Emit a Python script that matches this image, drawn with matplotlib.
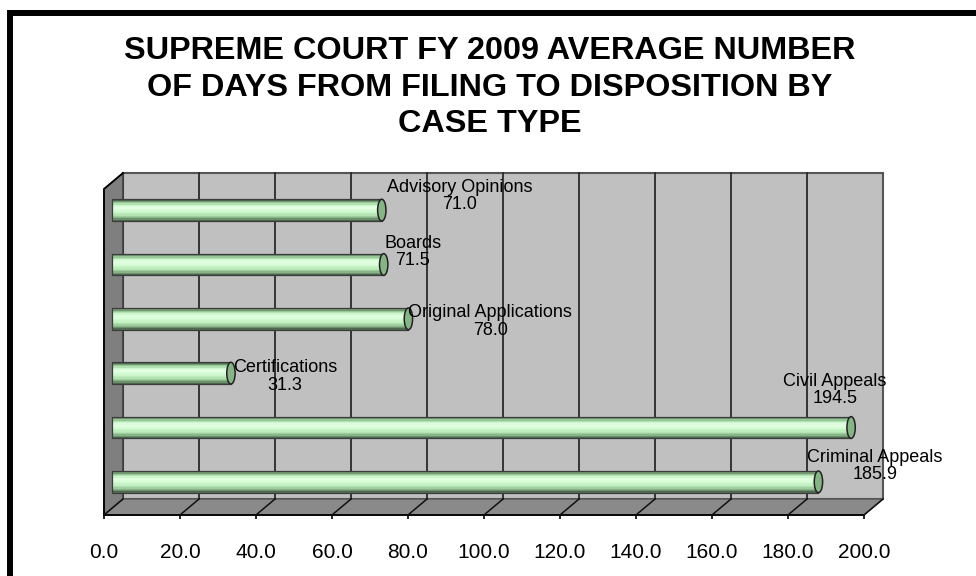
import matplotlib
matplotlib.use('Agg')
import matplotlib.pyplot as plt
import numpy as np
from matplotlib.patches import Rectangle, Polygon, Ellipse
from matplotlib.transforms import offset_copy, IdentityTransform
from matplotlib.colors import to_rgb

# ================== data ==================
categories = ['Advisory Opinions', 'Boards', 'Original Applications',
              'Certifications', 'Civil Appeals', 'Criminal Appeals']
values = [71.0, 71.5, 78.0, 31.3, 194.5, 185.9]
xticks = [0, 20, 40, 60, 80, 100, 120, 140, 160, 180, 200]
tick_labels = ['0.0', '20.0', '40.0', '60.0', '80.0', '100.0',
               '120.0', '140.0', '160.0', '180.0', '200.0']
title = 'SUPREME COURT FY 2009 AVERAGE NUMBER\nOF DAYS FROM FILING TO DISPOSITION BY\nCASE TYPE'

# label placement (offset from bar end, data units) - hand tuned like the original
label_dx = [22.7, 9.8, 23.6, 16.3, -2.1, 17.0]
label_dy = [0.37, 0.34, 0.06, 0.05, 0.80, 0.40]

plt.rcParams['font.family'] = ['Liberation Sans', 'DejaVu Sans']

DEPTH_X, DEPTH_Y = 19, 16      # 3d depth in pixels
BAR_X, BAR_Y = 8, 6            # bars sit half way in
BAR_H = 0.40

fig = plt.figure(figsize=(9.76, 5.76), dpi=100)
fig.patch.set_facecolor('white')

# outer black frame (runs off right/bottom like the original)
fig.patches.append(Rectangle((10 / 976, -0.2), 1.2, 1.2 - 13 / 576,
                             transform=fig.transFigure, fill=False,
                             edgecolor='black', linewidth=4.3))

fig.text(0.502, 0.848, title, ha='center', va='center', fontsize=23.3,
         fontweight='bold', linespacing=1.3)

ax = fig.add_axes([104 / 976, 61 / 576, 760 / 976, 326 / 576])
ax.set_xlim(0, 200)
ax.set_ylim(-0.5, 5.5)
for s in ax.spines.values():
    s.set_visible(False)
ax.patch.set_visible(False)
ax.set_yticks([])
ax.set_xticks(xticks)
ax.set_xticklabels(tick_labels, fontsize=15)
ax.tick_params(axis='x', length=3, width=1.2, color='black', pad=17.5)

fig.canvas.draw()
back = offset_copy(ax.transData, fig=fig, x=DEPTH_X, y=DEPTH_Y, units='dots')
mid = offset_copy(ax.transData, fig=fig, x=BAR_X, y=BAR_Y, units='dots')


def px(x, y, dx=0, dy=0):
    p = ax.transData.transform((x, y))
    return (p[0] + dx, p[1] + dy)


ident = IdentityTransform()

# back wall
ax.add_patch(Rectangle((0, -0.5), 200, 6, transform=back, facecolor='#c0c0c0',
                       edgecolor='#555555', linewidth=1.5, zorder=1, clip_on=False))
# side wall
side = [px(0, -0.5), px(0, 5.5), px(0, 5.5, DEPTH_X, DEPTH_Y), px(0, -0.5, DEPTH_X, DEPTH_Y)]
ax.add_patch(Polygon(side, closed=True, transform=ident, facecolor='#7f7f7f',
                     edgecolor='#333333', linewidth=1.0, zorder=2, clip_on=False))
# floor
floor = [px(0, -0.5), px(200, -0.5), px(200, -0.5, DEPTH_X, DEPTH_Y), px(0, -0.5, DEPTH_X, DEPTH_Y)]
ax.add_patch(Polygon(floor, closed=True, transform=ident, facecolor='#8a8a8a',
                     edgecolor='#555555', linewidth=1.0, zorder=2, clip_on=False))
# left / bottom edges in black
ax.plot([px(0, -0.5)[0], px(0, 5.5)[0], px(0, 5.5, DEPTH_X, DEPTH_Y)[0]],
        [px(0, -0.5)[1], px(0, 5.5)[1], px(0, 5.5, DEPTH_X, DEPTH_Y)[1]],
        transform=ident, color='black', lw=1.3, zorder=3, clip_on=False)
ax.plot([px(0, -0.5)[0], px(200, -0.5)[0]], [px(0, -0.5)[1], px(200, -0.5)[1]],
        transform=ident, color='black', lw=1.3, zorder=3, clip_on=False)

# gridlines on back wall + floor
for t in xticks[1:-1]:
    ax.plot([t, t], [-0.5, 5.5], transform=back, color='#2a2a2a', lw=1.3,
            zorder=3, clip_on=False)
for t in xticks:
    a = px(t, -0.5)
    b = px(t, -0.5, DEPTH_X, DEPTH_Y)
    ax.plot([a[0], b[0]], [a[1], b[1]], transform=ident, color='#111111', lw=1.1,
            zorder=3, clip_on=False)

# cylinders
stops = ['#4f6a4f', '#93c493', '#c8f5c8', '#e6ffe6', '#d6fcd6', '#c4f2c4',
         '#b0e0b0', '#86b086', '#4f6a4f']
stops = [np.array(to_rgb(c)) for c in stops]
n_strip = 16
ypos = np.arange(len(categories))[::-1]
for v, y in zip(values, ypos):
    for i in range(n_strip):
        f = i / (n_strip - 1) * (len(stops) - 1)
        k = min(int(f), len(stops) - 2)
        c = stops[k] * (1 - (f - k)) + stops[k + 1] * (f - k)
        top = y + BAR_H / 2 - i * BAR_H / n_strip
        ax.barh(top - BAR_H / n_strip / 2, v, height=BAR_H / n_strip, left=0,
                color=c, transform=mid, zorder=5, clip_on=False, linewidth=0)
    ax.add_patch(Rectangle((0, y - BAR_H / 2), v, BAR_H, transform=mid, fill=False,
                           edgecolor='#3c3c3c', linewidth=0.9, zorder=6, clip_on=False))
    ax.add_patch(Ellipse((v, y), 2.2, BAR_H, transform=mid, facecolor='#86b486',
                         edgecolor='#222222', linewidth=1.1, zorder=7, clip_on=False))

# data labels
for cat, v, y, ddx, ddy in zip(categories, values, ypos, label_dx, label_dy):
    ax.text(v + ddx, y + ddy, f'{cat}\n{v:.1f}', ha='center', va='center',
            fontsize=13, linespacing=1.05, zorder=8, clip_on=False)

fig.savefig('out.png', dpi=100)
